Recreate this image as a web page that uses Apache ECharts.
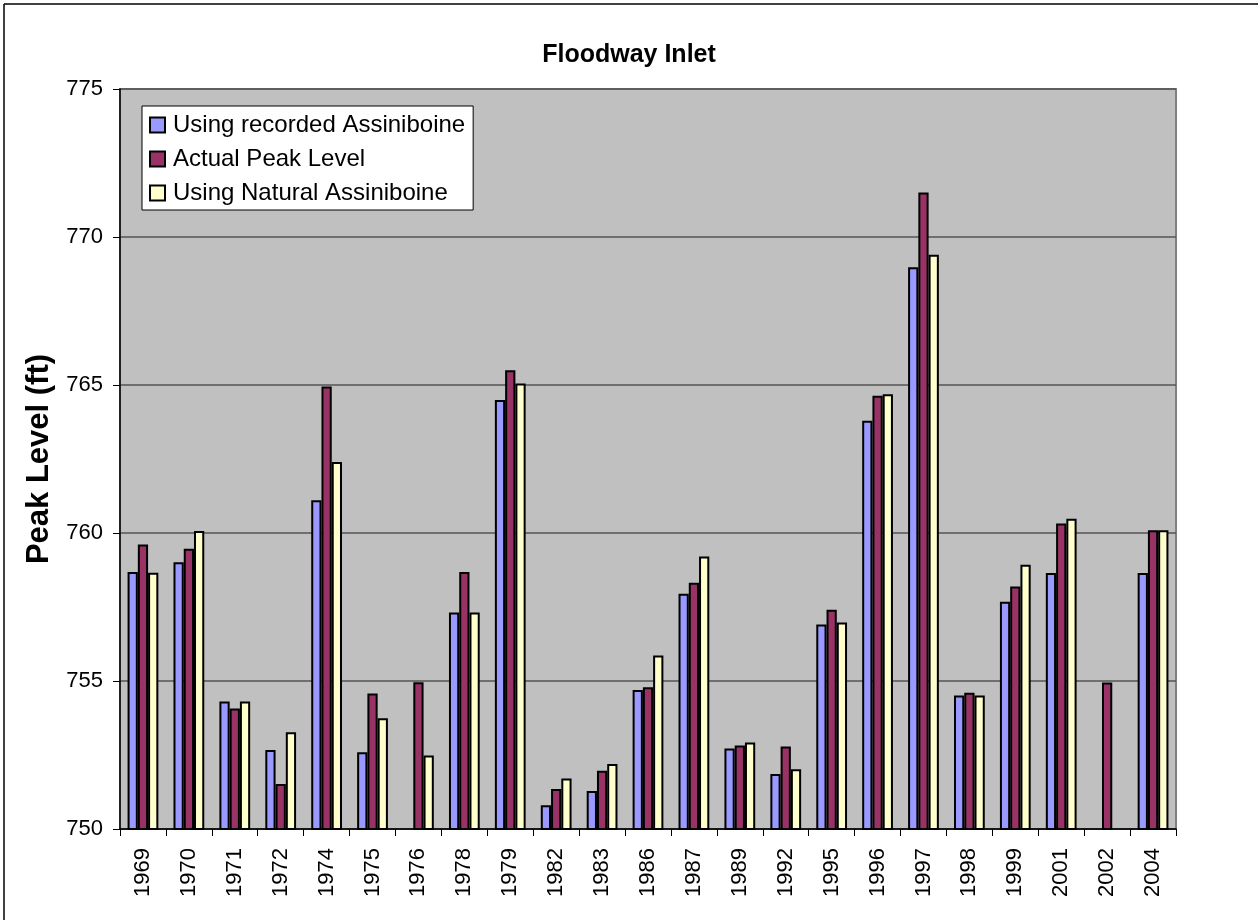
<!DOCTYPE html>
<html>
<head>
<meta charset="utf-8">
<script src="https://cdn.jsdelivr.net/npm/echarts@6/dist/echarts.min.js"></script>
<style>
html,body{margin:0;padding:0;background:#fff;}
#chart{width:1258px;height:920px;}
</style>
</head>
<body>
<div id="chart"></div>
<script>
const categories = ['1969','1970','1971','1972','1974','1975','1976','1978','1979','1982','1983','1986','1987','1989','1992','1995','1996','1997','1998','1999','2001','2002','2004'];
const recordedAssiniboine = [758.68,759.01,754.31,752.67,761.11,752.59,null,757.31,764.49,750.80,751.28,754.70,757.95,752.72,751.86,756.91,763.79,768.98,754.51,757.68,758.65,null,758.65];
const actualPeak = [759.61,759.47,754.07,751.52,764.95,754.58,754.96,758.68,765.50,751.35,751.97,754.79,758.32,752.82,752.79,757.41,764.64,771.50,754.60,758.19,760.32,754.95,760.09];
const naturalAssiniboine = [758.66,760.07,754.31,753.27,762.40,753.74,752.48,757.31,765.05,751.71,752.20,755.86,759.21,752.92,752.02,756.98,764.69,769.40,754.51,758.93,760.48,null,760.09];
const yTicks = {min:750, max:775, interval:5};

const FONT = '"Liberation Sans", Arial, Helvetica, sans-serif';
const chart = echarts.init(document.getElementById('chart'), null, {renderer:'canvas'});
function barSeries(name, data, color){
  return {
    name, type:'bar', data,
    barGap:'0%', barCategoryGap:'33%',
    itemStyle:{color, borderColor:'#000', borderWidth:2},
    emphasis:{disabled:true},
    animation:false
  };
}
chart.setOption({
  animation:false,
  textStyle:{fontFamily:FONT, color:'#000'},
  title:{
    text:'Floodway Inlet', left:'center', top:38,
    textStyle:{fontFamily:FONT, fontSize:25, fontWeight:'bold', color:'#000'}
  },
  graphic:[
    {type:'line', shape:{x1:4,y1:4,x2:1258,y2:4}, style:{stroke:'#000', lineWidth:1.5}, silent:true},
    {type:'line', shape:{x1:4,y1:4,x2:4,y2:920}, style:{stroke:'#000', lineWidth:1.5}, silent:true}
  ],
  legend:{
    orient:'vertical', left:142, top:106,
    backgroundColor:'#fff', borderColor:'#000', borderWidth:1,
    padding:[7,8,5,7], itemGap:10, itemWidth:15, itemHeight:15,
    icon:'rect',
    textStyle:{fontFamily:FONT, fontSize:24, color:'#000', lineHeight:24, padding:[0,0,0,3]},
    itemStyle:{borderColor:'#000', borderWidth:2},
    selectedMode:false
  },
  grid:{
    left:120, top:89, width:1056, height:740,
    show:true, backgroundColor:'#C0C0C0', borderColor:'#808080', borderWidth:2
  },
  xAxis:{
    type:'category', data:categories,
    axisLine:{show:true, lineStyle:{color:'#000', width:1.5}},
    axisTick:{show:true, length:7, lineStyle:{color:'#000', width:1}},
    axisLabel:{rotate:90, fontSize:22, fontFamily:FONT, color:'#000', margin:19},
    splitLine:{show:false}
  },
  yAxis:{
    type:'value', min:yTicks.min, max:yTicks.max, interval:yTicks.interval,
    name:'Peak Level (ft)', nameLocation:'middle', nameGap:63,
    nameTextStyle:{fontFamily:FONT, fontSize:31, fontWeight:'bold', color:'#000'},
    axisLine:{show:true, lineStyle:{color:'#000', width:1.5}},
    axisTick:{show:true, length:7, lineStyle:{color:'#000', width:1}},
    axisLabel:{fontSize:22, fontFamily:FONT, color:'#000', margin:17},
    splitLine:{show:true, lineStyle:{color:'#555', width:1.5}}
  },
  series:[
    barSeries('Using recorded Assiniboine', recordedAssiniboine, '#9999FF'),
    barSeries('Actual Peak Level', actualPeak, '#993366'),
    barSeries('Using Natural Assiniboine', naturalAssiniboine, '#FFFFCC')
  ]
});
</script>
</body>
</html>
